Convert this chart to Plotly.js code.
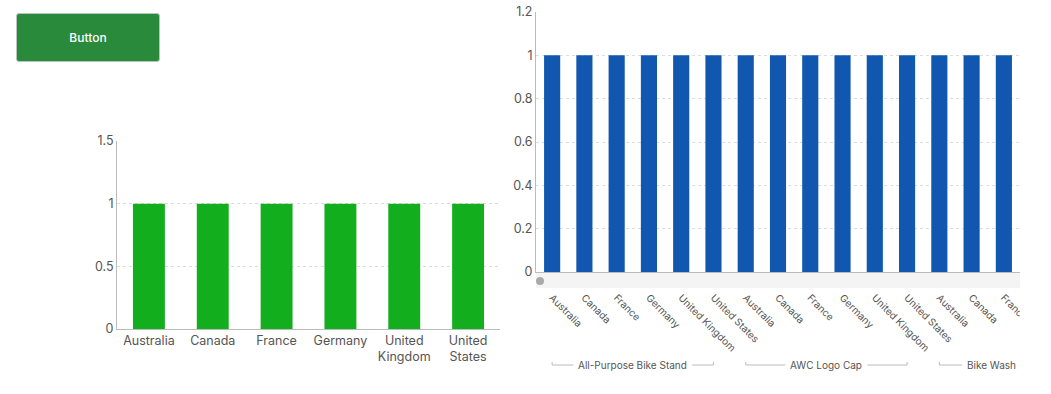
<!DOCTYPE html>
<html><head><meta charset="utf-8">
<script src="https://cdn.plot.ly/plotly-3.0.1.min.js"></script>
<style>
html,body{margin:0;padding:0;width:1051px;height:394px;overflow:hidden;background:#fff;font-family:Inter,sans-serif}
#btn{position:absolute;left:16px;top:13px;width:144px;height:49px;box-sizing:border-box;background:#2a8a3c;border:1px solid #b9c4bc;border-radius:3px;color:#fff;font:500 12px Inter,sans-serif;display:flex;align-items:center;justify-content:center;z-index:5}
#left{position:absolute;left:0;top:0;width:520px;height:394px}
#wrap{position:absolute;left:500px;top:0;width:520px;height:394px;overflow:hidden}
#right{width:551px;height:394px}
</style></head><body>
<div id="btn">Button</div>
<div id="left"></div>
<div id="wrap"><div id="right"></div></div>
<script>
// ---- data ----
const countries = ["Australia","Canada","France","Germany","United Kingdom","United States"];
const countryValues = [1,1,1,1,1,1];
const products = ["All-Purpose Bike Stand","AWC Logo Cap","Bike Wash"];
const standValues = [1,1,1,1,1,1];
const capValues = [1,1,1,1,1,1];
const washValues = [1,1,1,1,1,1];
const leftTickLabels = ["Australia","Canada","France","Germany","United<br>Kingdom","United<br>States"];

const FONT = "Inter, 'Open Sans', sans-serif";
const GREEN = "#13ae1e", BLUE = "#1157b0";
const GRIDDASH = "3px,3px";

// ---- left chart ----
const W1 = 520, H = 394;
Plotly.newPlot('left', [{
  type:'bar', x: countries, y: countryValues, marker:{color:GREEN}, hoverinfo:'none'
}], {
  width:W1, height:H, margin:{l:0,r:0,t:0,b:0}, showlegend:false,
  paper_bgcolor:'#fff', plot_bgcolor:'#fff', bargap:0.5,
  font:{family:FONT, color:'#555', size:12},
  xaxis:{domain:[117/W1, 500/W1], type:'category', tickvals:countries, ticktext:leftTickLabels,
    showline:true, linecolor:'#bbb', linewidth:1, showgrid:false, ticks:'', tickfont:{size:12.5,color:'#555'}, fixedrange:true},
  yaxis:{domain:[(H-329)/H, (H-141)/H], range:[0,1.5], dtick:0.5, tick0:0,
    showline:true, linecolor:'#bbb', linewidth:1, gridcolor:'#ddd', griddash:GRIDDASH, zeroline:false,
    ticks:'', tickfont:{size:12.5,color:'#555'}, fixedrange:true}
}, {displayModeBar:false, staticPlot:true});

// ---- right chart ----
const W2 = 551;
const groups = [standValues, capValues, washValues];
const xIdx = [], yVals = [], xLabels = [];
groups.forEach((vals, g) => vals.forEach((v, i) => {
  xIdx.push(xIdx.length); yVals.push(v); xLabels.push(countries[i]);
}));
const viewMin = -0.5, viewMax = 14.5;
const plotL = 536, plotR = 1020;
const ppu = (plotR - plotL) / (viewMax - viewMin);

const groupFontSize = 10;
const ctx = document.createElement('canvas').getContext('2d');
ctx.font = groupFontSize + "px Inter";
const lineY = (H - 365) / H, tickUp = 3 / H;
const shapes = [], annotations = [];
// scroll bar
shapes.push({type:'rect', xref:'paper', yref:'paper', x0:(plotL-500)/W2, x1:(plotR-500)/W2,
  y0:(H-288)/H, y1:(H-273)/H, fillcolor:'#f4f4f4', line:{width:0}, layer:'below'});
shapes.push({type:'circle', xref:'paper', yref:'paper', x0:(536-500)/W2, x1:(544-500)/W2,
  y0:(H-285)/H, y1:(H-277)/H, fillcolor:'#a9a9a9', line:{width:0}});
let offset = 0;
groups.forEach((vals, g) => {
  const s = offset, e = offset + vals.length - 1; offset += vals.length;
  const halfW = ctx.measureText(products[g]).width / 2 / ppu;
  const gap = 5 / ppu;
  let c = (s + e) / 2;
  if (c + halfW > viewMax - 4/ppu) c = viewMax - 4/ppu - halfW;
  annotations.push({xref:'x', yref:'paper', x:c, y:lineY, text:products[g], showarrow:false,
    xanchor:'center', yanchor:'middle', font:{size:groupFontSize, color:'#555', family:FONT}});
  const line = {color:'#bbb', width:1};
  shapes.push({type:'line', xref:'x', yref:'paper', x0:s, x1:c-halfW-gap, y0:lineY, y1:lineY, line});
  shapes.push({type:'line', xref:'x', yref:'paper', x0:s, x1:s, y0:lineY, y1:lineY+tickUp, line});
  if (c+halfW+gap < Math.min(e, viewMax)) {
    shapes.push({type:'line', xref:'x', yref:'paper', x0:c+halfW+gap, x1:Math.min(e, viewMax+0.5), y0:lineY, y1:lineY, line});
    if (e <= viewMax) shapes.push({type:'line', xref:'x', yref:'paper', x0:e, x1:e, y0:lineY, y1:lineY+tickUp, line});
  }
});

Plotly.newPlot('right', [{
  type:'bar', x: xIdx, y: yVals, marker:{color:BLUE}, hoverinfo:'none'
}], {
  width:W2, height:H, margin:{l:0,r:0,t:0,b:0}, showlegend:false,
  paper_bgcolor:'rgba(0,0,0,0)', plot_bgcolor:'rgba(0,0,0,0)', bargap:0.5,
  font:{family:FONT, color:'#555', size:12},
  xaxis:{domain:[(plotL-500)/W2, (plotR-500)/W2], range:[viewMin, viewMax], tickmode:'array', tickvals:xIdx, ticktext:xLabels,
    tickangle:45, showline:true, linecolor:'#bbb', linewidth:1, showgrid:false, zeroline:false,
    ticks:'outside', ticklen:15, tickcolor:'rgba(0,0,0,0)', tickfont:{size:10,color:'#555'}, fixedrange:true},
  yaxis:{domain:[(H-272)/H, (H-12)/H], range:[0,1.2], dtick:0.2, tick0:0,
    showline:true, linecolor:'#bbb', linewidth:1, gridcolor:'#ddd', griddash:GRIDDASH, zeroline:false,
    ticks:'', tickfont:{size:12.5,color:'#555'}, fixedrange:true},
  shapes, annotations
}, {displayModeBar:false, staticPlot:true});
</script>
</body></html>
